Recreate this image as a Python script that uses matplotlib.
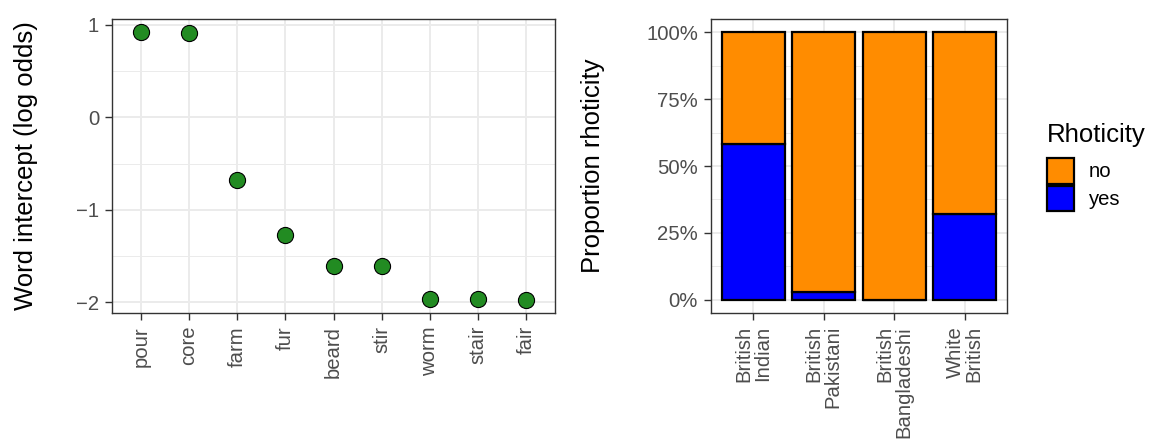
import matplotlib.pyplot as plt
import numpy as np
from matplotlib.patches import Patch
from matplotlib.ticker import FixedLocator, PercentFormatter

plt.rcParams["font.family"] = ["Liberation Sans", "DejaVu Sans"]

# word-level random intercepts (log odds)
words = ["pour", "core", "farm", "fur", "beard", "stir", "worm", "stair", "fair"]
intercepts = [0.92, 0.91, -0.68, -1.27, -1.61, -1.61, -1.96, -1.96, -1.97]

# proportion of rhotic tokens per ethnic group
groups = ["British\nIndian", "British\nPakistani", "British\nBangladeshi", "White\nBritish"]
prop_yes = [0.583, 0.028, 0.0, 0.322]
prop_no = [1 - p for p in prop_yes]

TICK_GREY = "#4D4D4D"
FRAME = "#333333"
GRID = "#EBEBEB"


def style_panel(ax):
    ax.set_facecolor("white")
    for s in ax.spines.values():
        s.set_color(FRAME)
        s.set_linewidth(1.0)
    ax.set_axisbelow(True)
    ax.grid(which="major", color=GRID, linewidth=1.4)
    ax.grid(which="minor", axis="y", color=GRID, linewidth=0.7)
    ax.tick_params(which="major", length=4.8, width=1.0, color=FRAME,
                   labelsize=14.6, labelcolor=TICK_GREY, pad=4.5)
    ax.tick_params(which="minor", length=0)


fig = plt.figure(figsize=(11.53, 4.45), dpi=100)

# left: word intercepts
ax1 = fig.add_axes([112 / 1153, 1 - 313 / 445, 443 / 1153, 294 / 445])
xw = np.arange(1, len(words) + 1)
ax1.scatter(xw, intercepts, s=135, color="#228B22", edgecolor="black",
            linewidth=0.8, zorder=3)
ax1.set_xlim(0.4, len(words) + 0.6)
lo, hi = min(intercepts), max(intercepts)
pad = 0.05 * (hi - lo)
ax1.set_ylim(lo - pad, hi + pad)
ax1.set_yticks([-2, -1, 0, 1])
ax1.set_yticklabels(["\u22122", "\u22121", "0", "1"])
ax1.yaxis.set_minor_locator(FixedLocator([-1.5, -0.5, 0.5]))
ax1.set_xticks(xw)
ax1.set_xticklabels(words, rotation=90)
style_panel(ax1)
ax1.set_ylabel("Word intercept (log odds)", fontsize=18.5)
ax1.yaxis.set_label_coords(-0.167, 0.5)

# right: stacked proportions
ax2 = fig.add_axes([711 / 1153, 1 - 313 / 445, 296 / 1153, 294 / 445])
xg = np.arange(1, len(groups) + 1)
ax2.bar(xg, prop_yes, width=0.9, color="#0000FF", edgecolor="black",
        linewidth=1.6, zorder=2)
ax2.bar(xg, prop_no, bottom=prop_yes, width=0.9, color="#FF8C00",
        edgecolor="black", linewidth=1.6, zorder=2)
ax2.set_xlim(0.4, len(groups) + 0.6)
ax2.set_ylim(-0.05, 1.05)
ax2.set_yticks([0, 0.25, 0.5, 0.75, 1.0])
ax2.yaxis.set_major_formatter(PercentFormatter(1.0, decimals=0))
ax2.yaxis.set_minor_locator(FixedLocator([0.125, 0.375, 0.625, 0.875]))
ax2.set_xticks(xg)
ax2.set_xticklabels(groups, rotation=90, multialignment="right",
                    linespacing=1.0)
style_panel(ax2)
ax2.set_ylabel("Proportion rhoticity", fontsize=18.5)
ax2.yaxis.set_label_coords(-0.358, 0.5)

handles = [
    Patch(facecolor="#FF8C00", edgecolor="black", linewidth=1.6),
    Patch(facecolor="#0000FF", edgecolor="black", linewidth=1.6),
]
leg = fig.legend(handles, ["no", "yes"], title="Rhoticity",
                 loc="upper left", bbox_to_anchor=(1047 / 1153, 1 - 123 / 445),
                 frameon=False, fontsize=14.6, title_fontsize=18.5,
                 handlelength=1.33, handleheight=1.55, handletextpad=0.75,
                 labelspacing=0.12, alignment="left", borderaxespad=0,
                 borderpad=0)
# extra room between the legend title and the keys
leg._legend_box.sep = 8

fig.savefig("out.png", dpi=100)
